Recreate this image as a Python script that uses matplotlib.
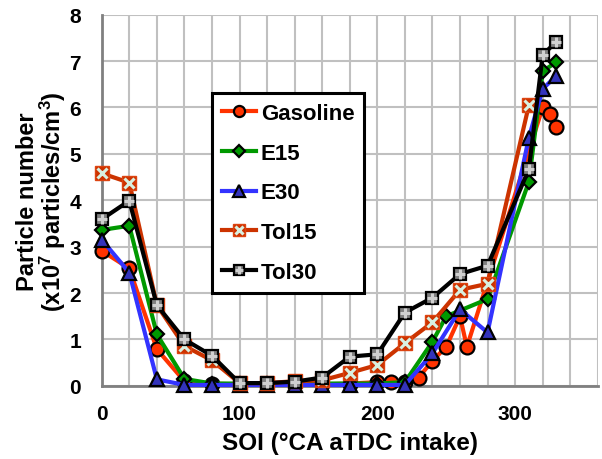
import matplotlib
matplotlib.use("Agg")
import matplotlib.pyplot as plt
from matplotlib.ticker import MultipleLocator, FuncFormatter
from matplotlib.legend_handler import HandlerTuple

plt.rcParams['font.family'] = ['Liberation Sans', 'DejaVu Sans']
plt.rcParams['font.weight'] = 'bold'
plt.rcParams['mathtext.fontset'] = 'custom'
plt.rcParams['mathtext.rm'] = 'Liberation Sans:bold'
plt.rcParams['mathtext.bf'] = 'Liberation Sans:bold'
plt.rcParams['mathtext.default'] = 'bf'

# SOI sweep, particle number in 1e7 particles/cm3
soi_gas = [0, 20, 40, 60, 80, 100, 120, 140, 160, 180, 200, 210, 220, 230, 240, 250, 260, 265, 320, 325, 330]
pn_gas = [2.91, 2.53, 0.79, 0.10, 0.05, 0.03, 0.03, 0.03, 0.03, 0.05, 0.08, 0.08, 0.08, 0.18, 0.54, 0.84, 1.50, 0.84, 6.00, 5.85, 5.57]

soi_e15 = [0, 20, 40, 60, 80, 100, 120, 140, 160, 180, 200, 220, 240, 250, 280, 310, 320, 330]
pn_e15 = [3.36, 3.45, 1.11, 0.15, 0.05, 0.05, 0.05, 0.05, 0.05, 0.05, 0.05, 0.08, 0.95, 1.50, 1.87, 4.40, 6.78, 6.98]

soi_e30 = [0, 20, 40, 60, 80, 100, 120, 140, 160, 180, 200, 220, 240, 260, 280, 310, 320, 330]
pn_e30 = [3.15, 2.44, 0.14, 0.02, 0.02, 0.02, 0.02, 0.02, 0.02, 0.02, 0.02, 0.02, 0.70, 1.65, 1.15, 5.35, 6.40, 6.68]

soi_tol15 = [0, 20, 40, 60, 80, 100, 120, 140, 160, 180, 200, 220, 240, 260, 280, 310]
pn_tol15 = [4.58, 4.38, 1.74, 0.86, 0.55, 0.06, 0.06, 0.10, 0.12, 0.28, 0.45, 0.92, 1.37, 2.07, 2.20, 6.05]

soi_tol30 = [0, 20, 40, 60, 80, 100, 120, 140, 160, 180, 200, 220, 240, 260, 280, 310, 320, 330]
pn_tol30 = [3.59, 3.99, 1.74, 1.00, 0.65, 0.06, 0.06, 0.09, 0.18, 0.63, 0.68, 1.58, 1.90, 2.41, 2.59, 4.67, 7.13, 7.42]

fig = plt.figure(figsize=(6.02, 4.60), dpi=100)
ax = fig.add_axes([0.169, 0.159, 0.824, 0.807])

lw = 3.0
mew = 1.6
ms = 10

h_gas, = ax.plot(soi_gas, pn_gas, color='#FF3300', lw=lw, marker='o', ms=ms,
                 mfc='#FF3300', mec='black', mew=mew, clip_on=False, zorder=3)
h_e15, = ax.plot(soi_e15, pn_e15, color='#009900', lw=lw, marker='D', ms=7.5,
                 mfc='#009900', mec='black', mew=mew, clip_on=False, zorder=3)
h_e30, = ax.plot(soi_e30, pn_e30, color='#3333FF', lw=lw, marker='^', ms=ms,
                 mfc='#3333BB', mec='black', mew=mew, clip_on=False, zorder=3)
h_t15, = ax.plot(soi_tol15, pn_tol15, color='#CC3300', lw=lw, marker='s', ms=ms,
                 mfc='#CC3300', mec='#DD4411', mew=1.0, clip_on=False, zorder=3)
h_t15x, = ax.plot(soi_tol15, pn_tol15, ls='none', marker='x', ms=7,
                  mec='#D8F0E0', mew=2.2, clip_on=False, zorder=3)
h_t30, = ax.plot(soi_tol30, pn_tol30, color='black', lw=lw, marker='s', ms=8.5,
                 mfc='#808080', mec='black', mew=mew, clip_on=False, zorder=3)
h_t30p, = ax.plot(soi_tol30, pn_tol30, ls='none', marker='+', ms=7,
                  mec='#D0D0D0', mew=2.2, clip_on=False, zorder=3)

ax.set_xlim(0, 360)
ax.set_ylim(0, 8)
ax.xaxis.set_major_locator(MultipleLocator(20))
ax.yaxis.set_major_locator(MultipleLocator(1))
ax.xaxis.set_major_formatter(FuncFormatter(lambda v, p: f"{int(v)}" if v % 100 == 0 else ""))
ax.grid(True, color='#C0C0C0', lw=1.5)
ax.set_axisbelow(True)
ax.tick_params(length=0, labelsize=15)
ax.tick_params(axis='x', pad=13)
ax.tick_params(axis='y', pad=15)
for side in ['top', 'right']:
    ax.spines[side].set_visible(False)
for side in ['left', 'bottom']:
    ax.spines[side].set_color('#808080')
    ax.spines[side].set_linewidth(2)

ax.set_xlabel('SOI (°CA aTDC intake)', fontsize=17.5, fontweight='bold', labelpad=6)
ax.set_ylabel('Particle number\n(x10$^{7}$ particles/cm$^{3}$)', fontsize=17,
              fontweight='bold', labelpad=1, linespacing=0.95)

leg = ax.legend([h_gas, h_e15, h_e30, (h_t15, h_t15x), (h_t30, h_t30p)],
                ['Gasoline', 'E15', 'E30', 'Tol15', 'Tol30'],
                handler_map={tuple: HandlerTuple(ndivide=1)},
                loc='upper left', bbox_to_anchor=(0.222, 0.789),
                prop={'size': 16, 'weight': 'bold'}, fancybox=False,
                edgecolor='black', framealpha=1, labelspacing=0.84,
                handlelength=1.55, handletextpad=0.2, markerscale=0.8,
                borderpad=0.45, borderaxespad=0)
leg.get_frame().set_linewidth(2.2)

fig.savefig('out.png', dpi=100)
